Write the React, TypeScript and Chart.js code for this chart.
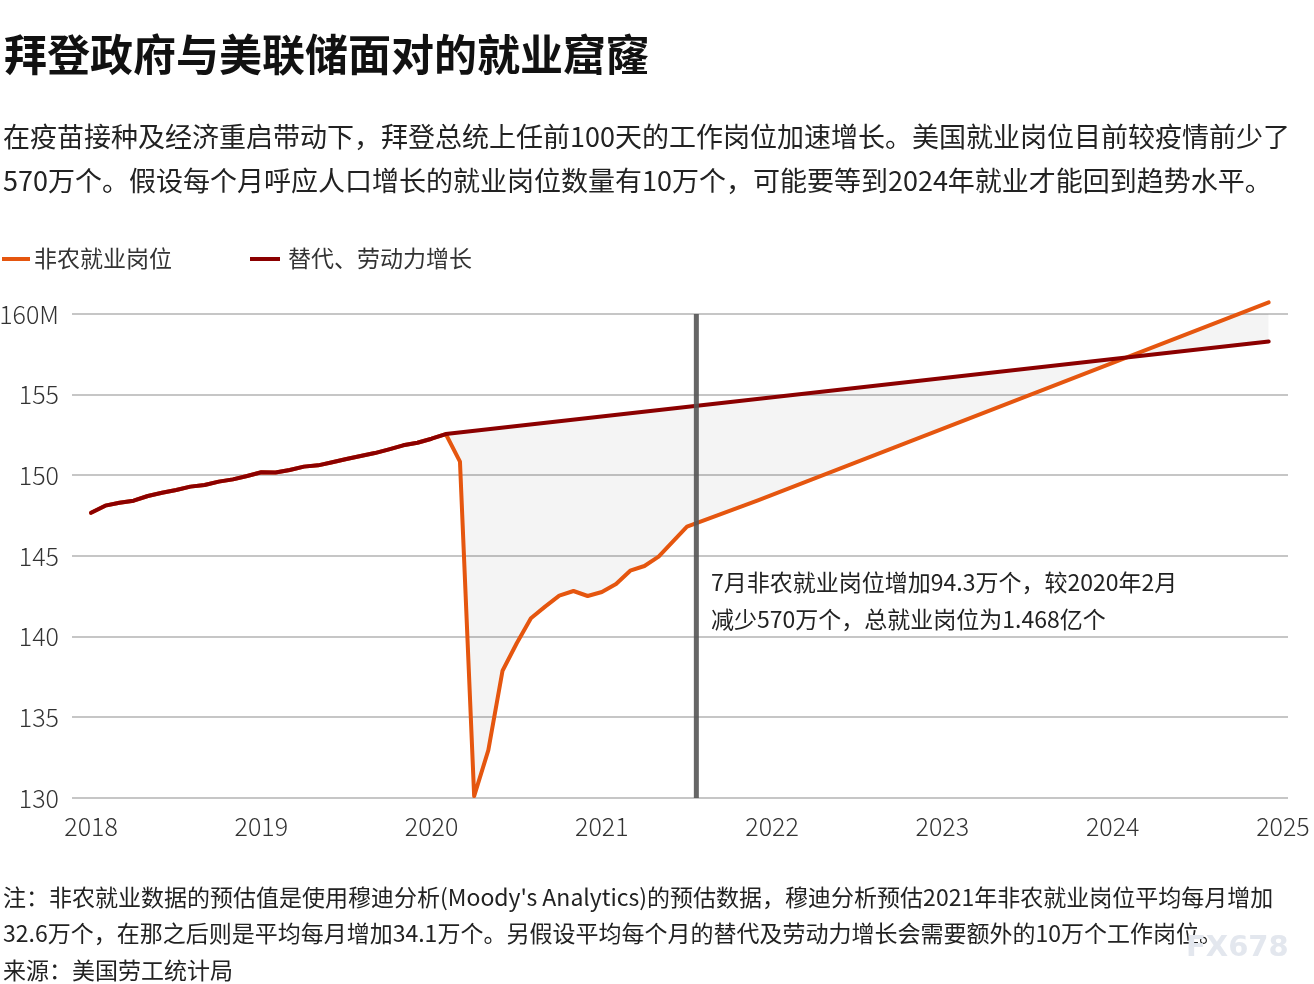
import React, { useEffect, useRef } from "react";
import { Chart, registerables } from "chart.js";

Chart.register(...registerables);

// ---------- data ----------
const HIST_MONTHS = [
  "2018-01", "2018-02", "2018-03", "2018-04", "2018-05", "2018-06",
  "2018-07", "2018-08", "2018-09", "2018-10", "2018-11", "2018-12",
  "2019-01", "2019-02", "2019-03", "2019-04", "2019-05", "2019-06",
  "2019-07", "2019-08", "2019-09", "2019-10", "2019-11", "2019-12",
  "2020-01", "2020-02",
];
const HIST_JOBS = [
  147.68, 148.12, 148.3, 148.43, 148.72, 148.92,
  149.09, 149.3, 149.4, 149.61, 149.75, 149.96,
  150.19, 150.17, 150.33, 150.54, 150.62, 150.81,
  151.01, 151.2, 151.38, 151.61, 151.86, 152.02,
  152.27, 152.56,
];
// nonfarm payrolls after Feb 2020 (actual + Moody's projection)
const NFP_MONTHS = [
  "2020-03", "2020-04", "2020-05", "2020-06", "2020-07", "2020-08",
  "2020-09", "2020-10", "2020-11", "2020-12", "2021-01", "2021-02",
  "2021-03", "2021-04", "2021-05", "2021-06", "2021-07", "2021-12",
  "2024-12",
];
const NFP_JOBS = [
  150.85, 130.12, 132.97, 137.89, 139.59, 141.14,
  141.86, 142.54, 142.83, 142.52, 142.77, 143.26,
  144.09, 144.38, 144.96, 145.89, 146.82, 148.45,
  160.72,
];
// replacement / labour-force growth trend after Feb 2020
const TREND_MONTHS = ["2024-12"];
const TREND_JOBS = [158.3];

const X_TICKS = [2018, 2019, 2020, 2021, 2022, 2023, 2024, 2025];
const Y_TICKS = [130, 135, 140, 145, 150, 155, 160];
const MARKER_X = 2021.555;

const SERIES_NAMES = ["非农就业岗位", "替代、劳动力增长"];
const ORANGE = "#e5560f";
const DARKRED = "#8b0000";

const toYear = (m: string) => {
  const [y, mo] = m.split("-").map(Number);
  return y + (mo - 1) / 12;
};

const FONT = "'Noto Sans CJK SC', 'Noto Sans', sans-serif";

export default function App() {
  const ref = useRef<HTMLCanvasElement | null>(null);

  useEffect(() => {
    if (!ref.current) return;
    const hist = HIST_MONTHS.map((m, i) => ({ x: toYear(m), y: HIST_JOBS[i] }));
    const trend = hist.concat(TREND_MONTHS.map((m, i) => ({ x: toYear(m), y: TREND_JOBS[i] })));
    const nfp = hist.concat(NFP_MONTHS.map((m, i) => ({ x: toYear(m), y: NFP_JOBS[i] })));

    const markerPlugin = {
      id: "marker",
      afterDatasetsDraw(chart: any) {
        const { ctx, chartArea, scales } = chart;
        const x = scales.x.getPixelForValue(MARKER_X);
        ctx.save();
        ctx.strokeStyle = "rgba(85,85,85,0.9)";
        ctx.lineWidth = 5;
        ctx.beginPath();
        ctx.moveTo(x, chartArea.top);
        ctx.lineTo(x, chartArea.bottom);
        ctx.stroke();
        ctx.restore();
      },
    };

    const chart = new Chart(ref.current, {
      type: "line",
      data: {
        datasets: [
          {
            label: SERIES_NAMES[1],
            data: trend,
            borderColor: DARKRED,
            borderWidth: 4,
            pointRadius: 0,
            tension: 0,
            fill: false,
            clip: false,
            borderCapStyle: "round",
            borderJoinStyle: "round",
          },
          {
            label: SERIES_NAMES[0],
            data: nfp,
            borderColor: ORANGE,
            borderWidth: 4,
            pointRadius: 0,
            tension: 0,
            fill: { target: 0 },
            clip: false,
            backgroundColor: "rgba(0,0,0,0.045)",
            borderCapStyle: "round",
            borderJoinStyle: "round",
          },
        ],
      },
      options: {
        animation: false,
        responsive: false,
        devicePixelRatio: 1,
        layout: { padding: { left: 0, right: 26, top: 314, bottom: 136 } },
        plugins: { legend: { display: false }, tooltip: { enabled: false } },
        scales: {
          x: {
            type: "linear",
            min: 2017.888,
            max: 2025.03,
            afterBuildTicks: (s: any) => {
              s.ticks = X_TICKS.map((v) => ({ value: v }));
            },
            afterFit: (s: any) => {
              s.height = 50;
              s.paddingLeft = 0;
              s.paddingRight = 0;
            },
            grid: { display: false, drawTicks: false },
            border: { display: false },
            ticks: {
              callback: (v: any) => String(v),
              color: "#333",
              font: { family: FONT, size: 25, weight: "300" },
              padding: 13,
              maxRotation: 0,
              autoSkip: false,
            },
          },
          y: {
            min: 130,
            max: 160,
            afterBuildTicks: (s: any) => {
              s.ticks = Y_TICKS.map((v) => ({ value: v }));
            },
            afterFit: (s: any) => {
              s.width = 72;
              s.paddingTop = 0;
              s.paddingBottom = 0;
            },
            grid: { color: "#c6c6c6", lineWidth: 2, drawTicks: false },
            border: { display: false },
            ticks: {
              callback: (v: any) => (v === 160 ? "160M" : String(v)),
              color: "#333",
              font: { family: FONT, size: 25, weight: "300" },
              padding: 13,
            },
          },
        },
      },
      plugins: [markerPlugin],
    } as any);
    return () => chart.destroy();
  }, []);

  const txt: React.CSSProperties = {
    position: "absolute",
    whiteSpace: "nowrap",
    fontFamily: FONT,
    color: "#222",
    margin: 0,
  };

  return (
    <div style={{ position: "absolute", left: 0, top: 0, width: 1314, height: 984, background: "#fff", overflow: "hidden" }}>
      <canvas ref={ref} width={1314} height={984} style={{ position: "absolute", left: 0, top: 0, width: 1314, height: 984 }} />
      <div style={{ ...txt, left: 4, top: 31.2, fontSize: 43, lineHeight: "43px", fontWeight: 700, color: "#111" }}>
        拜登政府与美联储面对的就业窟窿
      </div>
      <div style={{ ...txt, left: 3, top: 113.5, fontSize: 27, lineHeight: "44px" }}>
        在疫苗接种及经济重启带动下，拜登总统上任前100天的工作岗位加速增长。美国就业岗位目前较疫情前少了
        <br />
        570万个。假设每个月呼应人口增长的就业岗位数量有10万个，可能要等到2024年就业才能回到趋势水平。
      </div>
      {/* legend */}
      <div style={{ position: "absolute", left: 2, top: 257, width: 28, height: 4, background: ORANGE }} />
      <div style={{ ...txt, left: 34, top: 246.2, fontSize: 23, lineHeight: "23px", color: "#333" }}>{SERIES_NAMES[0]}</div>
      <div style={{ position: "absolute", left: 250, top: 257, width: 30, height: 4, background: DARKRED }} />
      <div style={{ ...txt, left: 288, top: 246.2, fontSize: 23, lineHeight: "23px", color: "#333" }}>{SERIES_NAMES[1]}</div>
      {/* annotation */}
      <div style={{ ...txt, left: 711, top: 563.2, fontSize: 23, lineHeight: "37px" }}>
        7月非农就业岗位增加94.3万个，较2020年2月
        <br />
        减少570万个，总就业岗位为1.468亿个
      </div>
      {/* notes */}
      <div style={{ ...txt, left: 3, top: 877.5, fontSize: 23, lineHeight: "36.5px", color: "#222" }}>
        注：非农就业数据的预估值是使用穆迪分析(Moody's Analytics)的预估数据，穆迪分析预估2021年非农就业岗位平均每月增加
        <br />
        32.6万个，在那之后则是平均每月增加34.1万个。另假设平均每个月的替代及劳动力增长会需要额外的10万个工作岗位。
        <br />
        来源：美国劳工统计局
      </div>
      <div style={{ ...txt, left: 1186, top: 930, fontSize: 29, lineHeight: "32px", fontWeight: 700, color: "#e3e7ee", fontFamily: "'DejaVu Sans', sans-serif" }}>
        FX678
      </div>
    </div>
  );
}
